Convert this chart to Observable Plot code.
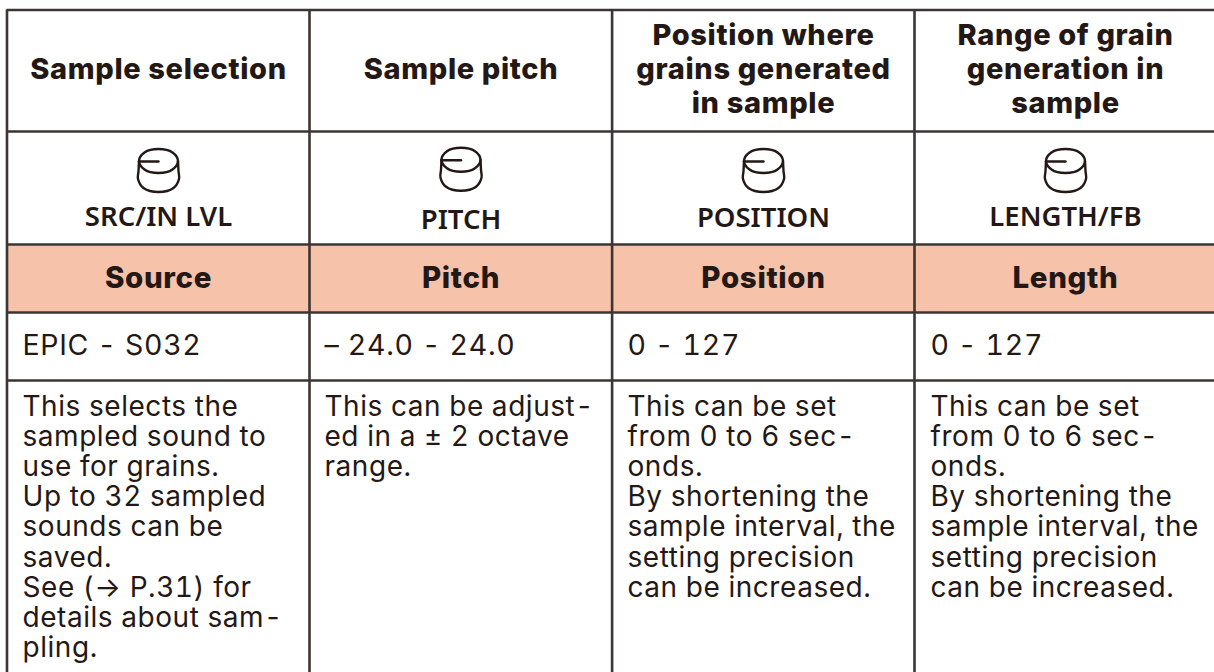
<!DOCTYPE html>
<html><head><meta charset="utf-8">
<style>html,body{margin:0;padding:0;background:#fff}svg{display:block}
g[font-weight="800"]{letter-spacing:.65px}
g[font-size="28"]{letter-spacing:.55px;font-feature-settings:"tnum"}
g[font-size="28.5"]{letter-spacing:.7px;font-feature-settings:"tnum"}
</style>
<script src="https://cdn.jsdelivr.net/npm/d3@7"></script>
<script src="https://cdn.jsdelivr.net/npm/@observablehq/plot@0.6"></script>
</head><body>
<script>
const headers = ["Sample selection","Sample pitch","Position where\ngrains generated\nin sample","Range of grain\ngeneration in\nsample"];
const knobLabels = ["SRC/IN LVL","PITCH","POSITION","LENGTH/FB"];
const params = ["Source","Pitch","Position","Length"];
const ranges = ["EPIC - S032","– 24.0 - 24.0","0 - 127","0 - 127"];
const descriptions = [
 ["This selects the","sampled sound to","use for grains.","Up to 32 sampled","sounds can be","saved.","See (→ P.31) for","details about sam-","pling."],
 ["This can be adjust-","ed in a ± 2 octave","range."],
 ["This can be set","from 0 to 6 sec-","onds.","By shortening the","sample interval, the","setting precision","can be increased."],
 ["This can be set","from 0 to 6 sec-","onds.","By shortening the","sample interval, the","setting precision","can be increased."]
];

// table layout
const W = 1214, H = 672;
const colEdges = [6.5,309,611.6,914];
const rowEdges = [9.5,131,244,312,380];
const colCenters = [158,460.5,763,1065];
const textLeft = [22,324,627,930];
const knobDy = [0,-1.3,0,0];
const labelBase = [225,228,226.7,225];
const ink = "#231815", rule = "#3b3533", band = "#f6c2aa";
const sans = "Inter, sans-serif", label = "'Noto Sans', sans-serif";

const idx = [0,1,2,3];
const headerLines = idx.flatMap(c => {
  const ls = headers[c].split("\n");
  return ls.map((t,i)=>({t,x:colCenters[c],y:78+(i-(ls.length-1)/2)*34}));
});
const bodyLines = idx.flatMap(c => descriptions[c].map((t,i)=>({t,x:textLeft[c],y:415+i*30.2})));

// knob glyph outline, in px relative to knob centre
const knobParts = [
 {curve:"catmull-rom-closed", pts:[[-19.5,0],[-14,-8.5],[0,-12],[14,-8.5],[19.5,0],[14,8.5],[0,12],[-14,8.5]]},
 {curve:"catmull-rom", pts:[[-19.5,0],[-20,10],[-20.5,18],[-15,27],[0,31],[15,27],[20.5,18],[20,10],[19.5,0]]},
 {curve:"linear", pts:[[-19.5,0.5],[0,0.5]]}
];
const knobMarks = idx.flatMap(c => knobParts.map(p =>
  Plot.line(p.pts.map(([dx,dy])=>({x:colCenters[c]+dx,y:160.5+knobDy[c]+dy})),
    {x:"x",y:"y",curve:p.curve,stroke:ink,strokeWidth:2.4})
));

const plot = Plot.plot({
  width:W,height:H,margin:0,
  style:{background:"#fff"},
  x:{domain:[0,W],range:[0,W],axis:null},
  y:{domain:[0,H],range:[0,H],axis:null},
  marks:[
    Plot.rect([0],{x1:colEdges[0],x2:W,y1:rowEdges[2],y2:rowEdges[3],fill:band}),
    Plot.ruleY(rowEdges,{x1:colEdges[0],x2:W,stroke:rule,strokeWidth:2.6}),
    Plot.ruleX(colEdges,{y1:rowEdges[0],y2:H,stroke:rule,strokeWidth:2.6}),
    ...knobMarks,
    Plot.text(headerLines,{x:"x",y:"y",text:"t",lineAnchor:"bottom",textAnchor:"middle",fontFamily:sans,fontWeight:800,fontSize:29,fill:ink}),
    Plot.text(idx,{x:c=>colCenters[c],y:c=>labelBase[c],text:c=>knobLabels[c],lineAnchor:"bottom",textAnchor:"middle",fontFamily:label,fontWeight:600,fontSize:27.5,fill:ink}),
    Plot.text(idx,{x:c=>colCenters[c],y:287,text:c=>params[c],lineAnchor:"bottom",textAnchor:"middle",fontFamily:sans,fontWeight:800,fontSize:29.5,fill:ink}),
    Plot.text(idx,{x:c=>textLeft[c],y:354,text:c=>ranges[c],lineAnchor:"bottom",textAnchor:"start",fontFamily:sans,fontSize:28.5,fill:ink}),
    Plot.text(bodyLines,{x:"x",y:"y",text:"t",lineAnchor:"bottom",textAnchor:"start",fontFamily:sans,fontSize:28,fill:ink})
  ]
});
document.body.append(plot);
</script>
</body></html>
